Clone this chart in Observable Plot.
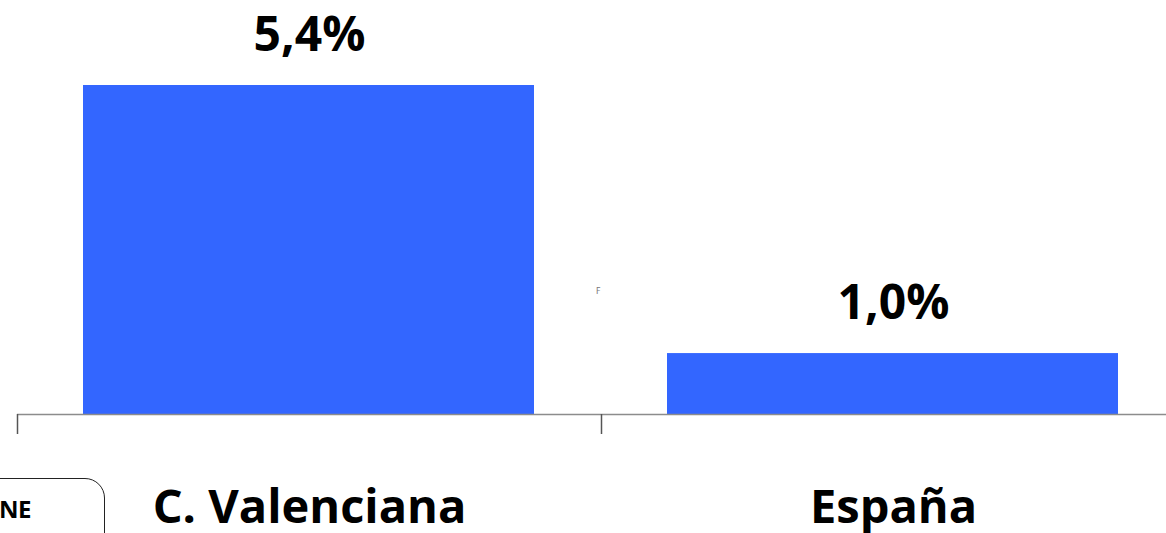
<!DOCTYPE html>
<html>
<head>
<meta charset="utf-8">
<script src="https://cdn.jsdelivr.net/npm/d3@7"></script>
<script src="https://cdn.jsdelivr.net/npm/@observablehq/plot@0.6"></script>
<style>
  html, body { margin: 0; padding: 0; background: #fff; overflow: hidden; width: 1166px; height: 533px; }
  #wrap { position: relative; width: 1166px; height: 533px; overflow: hidden; }
  #chart { position: absolute; left: 0; top: 0; width: 1185px; }
  #chart svg { max-width: none !important; }
  #nebox { position: absolute; left: -30px; top: 478px; width: 135px; height: 90px; border: 1.3px solid #222; border-radius: 20px; box-sizing: border-box; }
  #netext { position: absolute; left: -1px; top: 492px; font: bold 24px "Open Sans", sans-serif; color: #000; letter-spacing: -0.5px; }
  #tiny { position: absolute; left: 596px; top: 287px; font: 8px "DejaVu Sans", sans-serif; color: #777; }
</style>
</head>
<body>
<div id="wrap">
  <div id="chart"></div>
  <div id="nebox"></div>
  <div id="netext">NE</div>
  <div id="tiny">F</div>
</div>
<script>
const categories = ["C. Valenciana", "España"];
const values = [5.4, 1.0];
const valueLabels = ["5,4%", "1,0%"];

const data = categories.map((c, i) => ({cat: c, value: values[i], label: valueLabels[i]}));

const W = 1185, H = 533;
const mL = 17, mR = 0;
const band = (W - mL - mR) / categories.length;

const chart = Plot.plot({
  width: W,
  height: H,
  marginLeft: mL,
  marginRight: mR,
  marginTop: 85,
  marginBottom: 119,
  style: {fontFamily: "'Open Sans', sans-serif", background: "transparent", overflow: "visible", maxWidth: "none"},
  x: {domain: categories, padding: 0, axis: null},
  y: {domain: [0, 5.4], axis: null},
  marks: [
    Plot.barY(data, {x: "cat", y: "value", fill: "#3366ff", insetLeft: 66, insetRight: 67}),
    Plot.ruleY([0], {stroke: "#8c8c8c", strokeWidth: 1.5}),
    Plot.axisX(categories, {tickSize: 20, tickFormat: () => "", label: null, dx: -band / 2, stroke: "#555", strokeWidth: 1.5, anchor: "bottom"}),
    Plot.text(data, {x: "cat", y: "value", text: "label", dy: -35, lineAnchor: "bottom", fontSize: 48, fontWeight: "bold", fill: "#000"}),
    Plot.text(data, {x: "cat", text: "cat", frameAnchor: "bottom", dy: 108, lineAnchor: "bottom", fontSize: 47, fontWeight: "bold", fill: "#000"})
  ]
});
document.getElementById("chart").appendChild(chart);
</script>
</body>
</html>
